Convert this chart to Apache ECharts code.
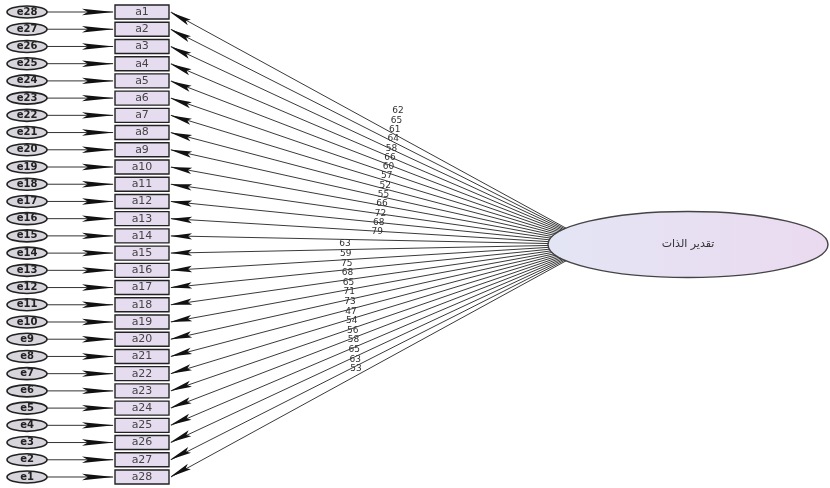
<!DOCTYPE html>
<html><head><meta charset="utf-8">
<script src="https://cdn.jsdelivr.net/npm/echarts@6/dist/echarts.min.js"></script>
<style>html,body{margin:0;padding:0;background:#fff}#c{width:830px;height:488px}</style>
</head><body><div id="c"></div>
<script>
// ---- data ----
const items = ['a1','a2','a3','a4','a5','a6','a7','a8','a9','a10','a11','a12','a13','a14',
               'a15','a16','a17','a18','a19','a20','a21','a22','a23','a24','a25','a26','a27','a28'];
const errors = ['e28','e27','e26','e25','e24','e23','e22','e21','e20','e19','e18','e17','e16','e15',
                'e14','e13','e12','e11','e10','e9','e8','e7','e6','e5','e4','e3','e2','e1'];
const loadings = [0.62,0.65,0.61,0.64,0.58,0.66,0.60,0.57,0.52,0.55,0.66,0.72,0.68,0.79,
                  0.63,0.59,0.75,0.68,0.65,0.71,0.73,0.47,0.54,0.56,0.58,0.65,0.63,0.53];
const latentName = 'تقدير الذات';

// ---- layout (px-equivalent units on hidden x axis; rows on y axis) ----
const L = {
  errCx: 27, errRx: 20, errRy: 6,
  boxL: 115, boxR: 169, boxH: 14,
  latCx: 688, latRow: 13.5, latRx: 140, latRy: 33,
  fanX: 596,
  rowPx: (477 - 12) / 27
};

function head(tx, ty, sx, sy, len, w) {
  const dx = tx - sx, dy = ty - sy, d = Math.hypot(dx, dy);
  const ux = dx / d, uy = dy / d;
  const bx = tx - ux * len, by = ty - uy * len;
  const nx = tx - ux * len * 0.82, ny = ty - uy * len * 0.82;
  return [[tx, ty], [bx - uy * w, by + ux * w], [nx, ny], [bx + uy * w, by - ux * w]];
}

const chart = echarts.init(document.getElementById('c'), null, {renderer: 'canvas'});
chart.setOption({
  animation: false,
  backgroundColor: '#ffffff',
  grid: {left: 0, right: 0, top: 3.4, bottom: 2.4},
  xAxis: {type: 'value', min: 0, max: 830, show: false},
  yAxis: {type: 'value', min: -0.5, max: 27.5, inverse: true, show: false},
  series: [
    {
      type: 'custom',
      data: [[L.latCx, L.latRow]],
      z: 1,
      renderItem(params, api) {
        const c = api.coord([api.value(0), api.value(1)]);
        const rx = api.coord([L.latCx + L.latRx, L.latRow])[0] - c[0];
        const ry = Math.abs(api.coord([L.latCx, L.latRow + L.latRy / L.rowPx])[1] - c[1]);
        return {
          type: 'group',
          children: [
            {type: 'ellipse', shape: {cx: c[0], cy: c[1], rx: rx, ry: ry},
             style: {fill: new echarts.graphic.LinearGradient(0, 0, 1, 0, [
               {offset: 0, color: '#e3e5f4'}, {offset: 1, color: '#ebdaf0'}]),
               stroke: '#444', lineWidth: 1.4}},
            {type: 'text', x: c[0], y: c[1],
             style: {text: latentName, fontSize: 11, fill: '#333', align: 'center', verticalAlign: 'middle',
                     fontFamily: 'DejaVu Sans'}}
          ]
        };
      }
    },
    {
      type: 'custom',
      data: items.map((n, i) => [i, loadings[i]]),
      z: 2,
      renderItem(params, api) {
        const i = api.value(0);
        const val = api.value(1);
        const y = api.coord([0, i])[1];
        const X = v => api.coord([v, i])[0];
        const errCx = X(L.errCx), errRx = X(L.errCx + L.errRx) - errCx;
        const boxL = X(L.boxL), boxR = X(L.boxR);
        const ry = L.errRy, bh = L.boxH;
        // latent geometry
        const c = api.coord([L.latCx, L.latRow]);
        const rx = api.coord([L.latCx + L.latRx, L.latRow])[0] - c[0];
        const lry = Math.abs(api.coord([L.latCx, L.latRow + L.latRy / L.rowPx])[1] - c[1]);
        const fan = X(L.fanX);
        const ox = fan - c[0], dx = boxR - fan, dy = y - c[1];
        const a = dx * dx / (rx * rx) + dy * dy / (lry * lry);
        const b = 2 * ox * dx / (rx * rx);
        const cc = ox * ox / (rx * rx) - 1;
        const t = (-b + Math.sqrt(b * b - 4 * a * cc)) / (2 * a);
        const sx = fan + t * dx, sy = c[1] + t * dy;
        // label position
        let lx, lyPx;
        if (i < 14) { lx = 398 - i * 1.6; lyPx = 111 + i * 9.3; }
        else { lx = 345 + (i - 14) * 0.85; lyPx = 244 + (i - 14) * 9.6; }
        const lp = api.coord([lx, (lyPx - 12) / L.rowPx]);
        const txt = String(Math.round(val * 100));
        return {
          type: 'group',
          children: [
            {type: 'line', shape: {x1: sx, y1: sy, x2: boxR + 2, y2: y},
             style: {stroke: '#3a3a3a', lineWidth: 1}},
            {type: 'polygon', shape: {points: head(boxR + 1, y, sx, sy, 22, 3.2)},
             style: {fill: '#111'}},
            {type: 'line', shape: {x1: errCx + errRx, y1: y, x2: boxL - 2, y2: y},
             style: {stroke: '#333', lineWidth: 1}},
            {type: 'polygon', shape: {points: head(boxL - 1, y, errCx, y, 32, 3.2)},
             style: {fill: '#111'}},
            {type: 'ellipse', shape: {cx: errCx, cy: y, rx: errRx, ry: ry},
             style: {fill: '#d8d5dd', stroke: '#222', lineWidth: 1.6}},
            {type: 'text', x: errCx, y: y,
             style: {text: errors[i], fontSize: 10, fontWeight: 'bold', fill: '#222', align: 'center',
                     verticalAlign: 'middle', fontFamily: 'DejaVu Sans'}},
            {type: 'rect', shape: {x: boxL, y: y - bh / 2, width: boxR - boxL, height: bh},
             style: {fill: '#e6dcf0', stroke: '#222', lineWidth: 1.4}},
            {type: 'text', x: (boxL + boxR) / 2, y: y,
             style: {text: items[i], fontSize: 11, fill: '#444', align: 'center', verticalAlign: 'middle',
                     fontFamily: 'DejaVu Sans'}},
            {type: 'text', x: lp[0], y: lp[1],
             style: {text: txt, fontSize: 9, fill: '#333', align: 'center', verticalAlign: 'middle',
                     fontFamily: 'DejaVu Sans'}}
          ]
        };
      }
    }
  ]
});
</script>
</body></html>
